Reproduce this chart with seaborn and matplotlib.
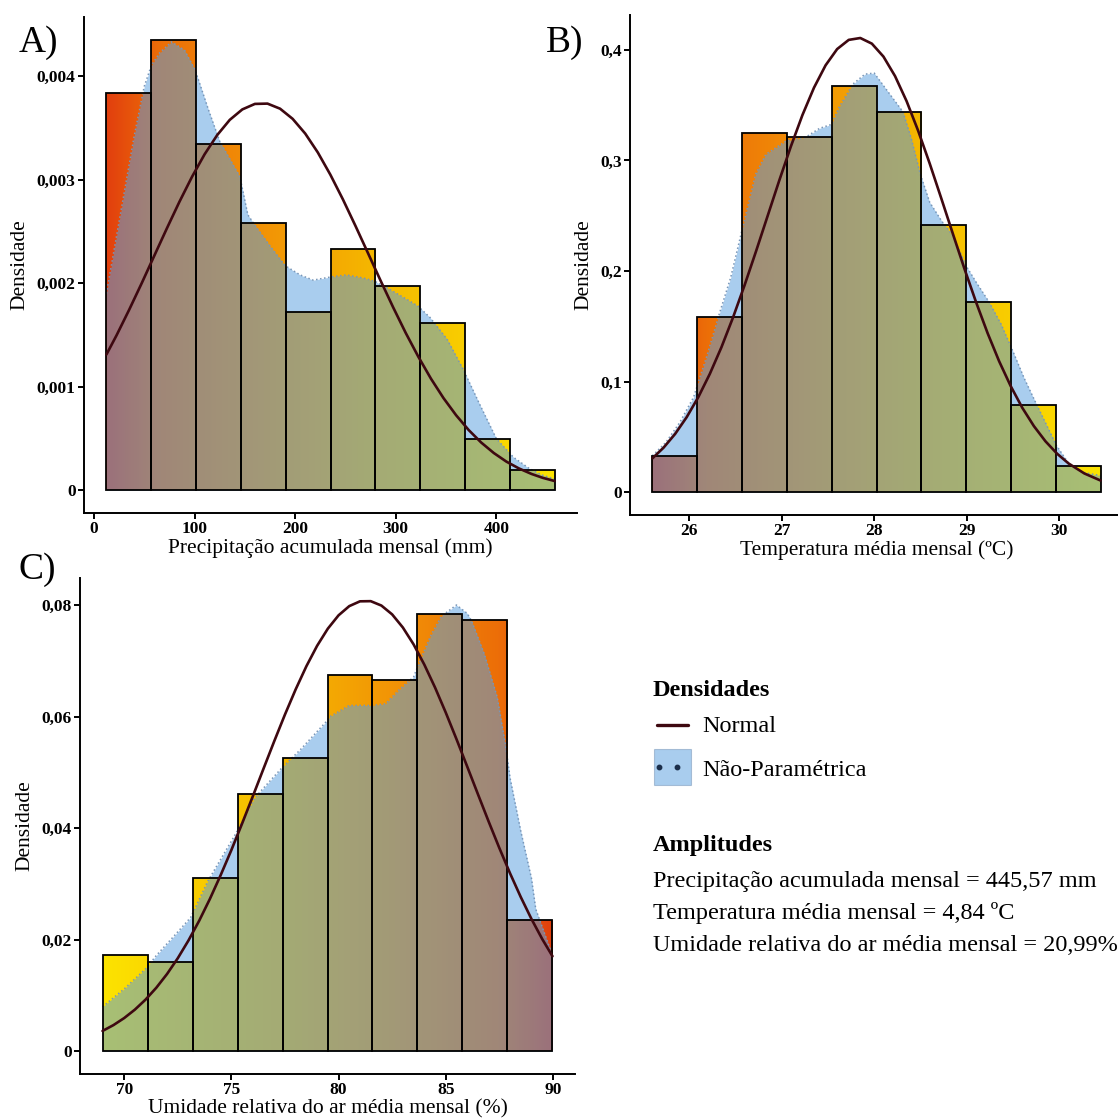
import numpy as np
import matplotlib
matplotlib.use("Agg")
import matplotlib.pyplot as plt
import seaborn as sns
from matplotlib.colors import LinearSegmentedColormap
from matplotlib.patches import Rectangle
from matplotlib.lines import Line2D

# ---------------- data ----------------
# A) monthly accumulated precipitation (mm)
prec_edges = [12.40, 56.96, 101.51, 146.07, 190.63, 235.19, 279.74, 324.30, 368.86, 413.41, 457.97]
prec_dens = [0.00384, 0.00435, 0.00334, 0.00258, 0.00172, 0.00233, 0.00197, 0.00162, 0.00050, 0.00020]
prec_kde_x = [12.4, 20, 30, 40, 50, 57, 65, 77, 90, 100, 104, 114, 125, 135, 145, 153, 160, 175, 190,
              205, 218, 235, 251, 268, 279, 294, 310, 322, 334, 351, 367, 384, 400, 417, 433, 445, 457.97]
prec_kde_y = [0.00190, 0.00232, 0.00287, 0.00342, 0.00390, 0.00410, 0.00422, 0.00433, 0.00425, 0.00407,
              0.00396, 0.00367, 0.00337, 0.00320, 0.00303, 0.00266, 0.00256, 0.00236, 0.00217, 0.00208,
              0.00203, 0.00206, 0.00208, 0.00205, 0.00202, 0.00194, 0.00185, 0.00178, 0.00167, 0.00146,
              0.00117, 0.00082, 0.00050, 0.00032, 0.00021, 0.00015, 0.00011]
prec_norm_x = [12.4, 22.5, 35, 47.5, 60, 72.5, 85, 97.5, 110, 122.5, 135, 147.5, 160, 172.5, 185, 197.5,
               210, 222.5, 235, 247.5, 260, 272.5, 285, 297.5, 310, 322.5, 335, 347.5, 360, 372.5, 385,
               397.5, 410, 422.5, 435, 446, 457.97]
prec_norm_y = [0.001312, 0.001498, 0.001744, 0.002001, 0.002266, 0.002530, 0.002787, 0.003028, 0.003245,
               0.003430, 0.003577, 0.003678, 0.003731, 0.003734, 0.003685, 0.003587, 0.003445, 0.003263,
               0.003048, 0.002809, 0.002553, 0.002289, 0.002024, 0.001766, 0.001519, 0.001290, 0.001079,
               0.000891, 0.000726, 0.000583, 0.000462, 0.000361, 0.000278, 0.000212, 0.000159, 0.000122,
               0.0000905]

# B) monthly mean temperature (degC)
temp_edges = [25.605, 26.089, 26.573, 27.057, 27.541, 28.025, 28.509, 28.993, 29.477, 29.961, 30.445]
temp_dens = [0.0328, 0.1582, 0.3251, 0.3209, 0.3675, 0.3437, 0.2418, 0.1717, 0.0791, 0.0235]
temp_kde_x = [25.605, 25.75, 25.9, 26.05, 26.2, 26.33, 26.45, 26.57, 26.72, 26.83, 27.05, 27.26, 27.41,
              27.54, 27.62, 27.77, 27.9, 28.0, 28.15, 28.31, 28.4, 28.5, 28.6, 28.73, 28.85, 28.99, 29.1,
              29.24, 29.37, 29.5, 29.62, 29.75, 29.86, 29.97, 30.1, 30.25, 30.445]
temp_kde_y = [0.033, 0.045, 0.063, 0.086, 0.125, 0.162, 0.194, 0.236, 0.2875, 0.3055, 0.3176, 0.321, 0.329,
              0.3326, 0.348, 0.369, 0.378, 0.379, 0.362, 0.344, 0.320, 0.287, 0.262, 0.245, 0.232, 0.205,
              0.190, 0.172, 0.152, 0.127, 0.103, 0.080, 0.061, 0.042, 0.026, 0.018, 0.015]
temp_norm_x = [25.605, 25.725, 25.85, 25.975, 26.1, 26.225, 26.35, 26.475, 26.6, 26.725, 26.85, 26.975,
               27.1, 27.225, 27.35, 27.475, 27.6, 27.725, 27.85, 27.975, 28.1, 28.225, 28.35, 28.475,
               28.6, 28.725, 28.85, 28.975, 29.1, 29.225, 29.35, 29.475, 29.6, 29.725, 29.85, 29.975,
               30.1, 30.27, 30.445]
temp_norm_y = [0.03061, 0.04025, 0.05268, 0.06784, 0.08588, 0.1070, 0.1310, 0.1579, 0.1871, 0.2181,
               0.2500, 0.2819, 0.3126, 0.3410, 0.3658, 0.3860, 0.4007, 0.4090, 0.4107, 0.4056, 0.3939,
               0.3763, 0.3536, 0.3268, 0.2971, 0.2656, 0.2336, 0.2020, 0.1719, 0.1438, 0.1183, 0.09582,
               0.07626, 0.05975, 0.04602, 0.03485, 0.02596, 0.01695, 0.01057]

# C) monthly mean relative humidity (%)
umid_edges = [68.99, 71.09, 73.19, 75.29, 77.39, 79.49, 81.58, 83.68, 85.78, 87.88, 89.98]
umid_dens = [0.0172, 0.0161, 0.0311, 0.0461, 0.0526, 0.0675, 0.0666, 0.0783, 0.0774, 0.0236]
umid_kde_x = [68.99, 70, 71, 71.5, 72.4, 73.1, 73.9, 75.2, 76.1, 77.4, 78.2, 79.4, 79.6, 80.5, 81.6, 82.2,
              82.8, 83.5, 83.8, 84.3, 84.8, 85.5, 86.0, 86.2, 86.8, 87.4, 87.8, 88.0, 88.5, 89.0, 89.2, 89.98]
umid_kde_y = [0.0080, 0.0112, 0.0148, 0.0172, 0.0210, 0.0240, 0.0305, 0.0390, 0.0455, 0.0510, 0.0540,
              0.0590, 0.0600, 0.0620, 0.0620, 0.0623, 0.0647, 0.0671, 0.0700, 0.0745, 0.0780, 0.0800,
              0.0785, 0.0772, 0.0712, 0.0635, 0.0546, 0.0490, 0.0395, 0.0310, 0.0255, 0.0172]
umid_norm_x = [68.99, 69.5, 70, 70.5, 71, 71.5, 72, 72.5, 73, 73.5, 74, 74.5, 75, 75.5, 76, 76.5, 77, 77.5,
               78, 78.5, 79, 79.5, 80, 80.5, 81, 81.5, 82, 82.5, 83, 83.5, 84, 84.5, 85, 85.5, 86, 86.5,
               87, 87.5, 88, 88.5, 89, 89.5, 89.98]
umid_norm_y = [0.003672, 0.004722, 0.005981, 0.007496, 0.009298, 0.01142, 0.01388, 0.01670, 0.01989,
               0.02343, 0.02734, 0.03158, 0.03608, 0.04083, 0.04571, 0.05067, 0.05559, 0.06037, 0.06488,
               0.06903, 0.07269, 0.07576, 0.07815, 0.07980, 0.08066, 0.08069, 0.07990, 0.07832, 0.07597,
               0.07295, 0.06933, 0.06523, 0.06074, 0.05598, 0.05107, 0.04612, 0.04122, 0.03646, 0.03192,
               0.02767, 0.02373, 0.02015, 0.01706]

# ticks and labels
prec_xticks = [0, 100, 200, 300, 400]
prec_yticks = [0, 0.001, 0.002, 0.003, 0.004]
prec_ylabels = ["0", "0,001", "0,002", "0,003", "0,004"]
temp_xticks = [26, 27, 28, 29, 30]
temp_yticks = [0, 0.1, 0.2, 0.3, 0.4]
temp_ylabels = ["0", "0,1", "0,2", "0,3", "0,4"]
umid_xticks = [70, 75, 80, 85, 90]
umid_yticks = [0, 0.02, 0.04, 0.06, 0.08]
umid_ylabels = ["0", "0,02", "0,04", "0,06", "0,08"]

amplitude_lines = [
    "Precipitação acumulada mensal = 445,57 mm",
    "Temperatura média mensal = 4,84 ºC",
    "Umidade relativa do ar média mensal = 20,99%",
]

# ---------------- style ----------------
sns.set_style("ticks")
plt.rcParams["font.family"] = ["Liberation Serif", "DejaVu Serif"]
plt.rcParams["axes.linewidth"] = 1.4
for key in ["text.color", "axes.labelcolor", "xtick.color", "ytick.color", "axes.edgecolor"]:
    plt.rcParams[key] = "black"

SIZE = 1118
fig = plt.figure(figsize=(SIZE / 100, SIZE / 100), dpi=100)

grad_cmap = LinearSegmentedColormap.from_list(
    "bars", [(0, "#E23F0E"), (0.12, "#EC6E08"), (0.35, "#F29306"), (0.6, "#F5B800"), (1, "#FCE300")])
KDE_COLOR = "#5A9FE0"
NORM_COLOR = "#3E0810"


def px_box(left, right, top, bottom):
    """Pixel box (from top-left) -> figure fraction rect."""
    return [left / SIZE, 1 - bottom / SIZE, (right - left) / SIZE, (bottom - top) / SIZE]


def draw_panel(rect, edges, dens, kde_x, kde_y, norm_x, norm_y, xlim, ylim,
               xticks, yticks, ylabels, xlabel, reverse=False):
    ax = fig.add_axes(rect)
    centers = [(a + b) / 2 for a, b in zip(edges[:-1], edges[1:])]
    sns.histplot(x=centers, weights=dens, bins=edges, stat="count", ax=ax,
                 color="white", edgecolor="black", linewidth=1.3, alpha=1)
    bars = ax.containers[0]

    # horizontal colour gradient clipped to each bar
    grad = np.linspace(0, 1, 256).reshape(1, -1)
    if reverse:
        grad = grad[:, ::-1]
    for bar in bars:
        im = ax.imshow(grad, extent=(edges[0], edges[-1], 0, max(dens)), aspect="auto",
                       cmap=grad_cmap, origin="lower", zorder=1, interpolation="bilinear")
        im.set_clip_path(bar)
        bar.set_facecolor("none")
        bar.set_zorder(4)

    # non-parametric density
    ax.fill_between(kde_x, 0, kde_y, color=KDE_COLOR, alpha=0.52, lw=0, zorder=2)
    sns.lineplot(x=kde_x, y=kde_y, ax=ax, color="#7896B8", lw=1.1, linestyle=":", zorder=3,
                 sort=False, estimator=None)
    # normal density
    sns.lineplot(x=norm_x, y=norm_y, ax=ax, color=NORM_COLOR, lw=1.9, zorder=5,
                 sort=False, estimator=None)

    ax.set_xlim(*xlim)
    ax.set_ylim(*ylim)
    ax.set_xticks(xticks)
    ax.set_xticklabels([str(t) for t in xticks])
    ax.set_yticks(yticks)
    ax.set_yticklabels(ylabels)
    ax.tick_params(length=4, width=1.4, pad=2, labelsize=12.5, colors="black")
    for lab in ax.get_xticklabels() + ax.get_yticklabels():
        lab.set_fontweight("bold")
    ax.set_xlabel(xlabel, fontsize=15.5, labelpad=1)
    ax.set_ylabel("Densidade", fontsize=15.5, labelpad=5)
    sns.despine(ax=ax)
    return ax


draw_panel(px_box(84, 577, 17, 513), prec_edges, prec_dens, prec_kde_x, prec_kde_y,
           prec_norm_x, prec_norm_y, (-9.9, 480.2), (-0.000218, 0.00457),
           prec_xticks, prec_yticks, prec_ylabels, "Precipitação acumulada mensal (mm)")

draw_panel(px_box(630, 1123, 15, 515), temp_edges, temp_dens, temp_kde_x, temp_kde_y,
           temp_norm_x, temp_norm_y, (25.363, 30.687), (-0.0206, 0.4315),
           temp_xticks, temp_yticks, temp_ylabels, "Temperatura média mensal (ºC)")

draw_panel(px_box(80, 575, 578, 1074), umid_edges, umid_dens, umid_kde_x, umid_kde_y,
           umid_norm_x, umid_norm_y, (67.94, 91.03), (-0.00404, 0.08484),
           umid_xticks, umid_yticks, umid_ylabels, "Umidade relativa do ar média mensal (%)",
           reverse=True)

# ---------------- overlay: panel letters and legend ----------------
ov = fig.add_axes([0, 0, 1, 1])
ov.set_xlim(0, SIZE)
ov.set_ylim(SIZE, 0)
ov.axis("off")

for letter, x, y in [("A)", 19, 52), ("B)", 546, 52), ("C)", 18, 579)]:
    ov.text(x, y, letter, fontsize=27, va="baseline", ha="left")

ov.text(653, 696, "Densidades", fontsize=17.5, fontweight="bold", va="baseline")
ov.add_line(Line2D([657, 688], [725, 725], color=NORM_COLOR, lw=2.4))
ov.text(702, 732, "Normal", fontsize=17.5, va="baseline")
ov.add_patch(Rectangle((654, 749), 37, 36, facecolor=KDE_COLOR, alpha=0.52,
                       edgecolor="#7896B8", lw=0.8))
ov.add_line(Line2D([659, 677], [767, 767], color="#1B2E4A", lw=0, marker="o",
                   markersize=3.2))
ov.text(702, 776, "Não-Paramétrica", fontsize=17.5, va="baseline")

ov.text(653, 851, "Amplitudes", fontsize=17.5, fontweight="bold", va="baseline")
for i, line in enumerate(amplitude_lines):
    ov.text(653, 887 + i * 32, line, fontsize=17.5, va="baseline")

fig.savefig("out.png", dpi=100)
